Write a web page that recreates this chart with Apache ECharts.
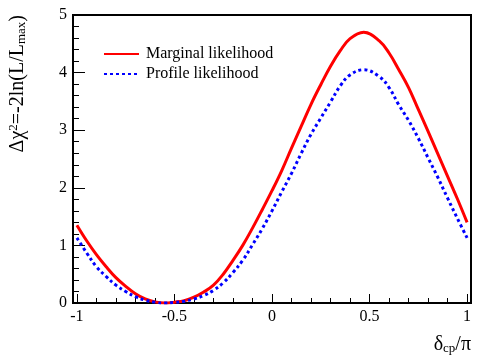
<!DOCTYPE html>
<html>
<head>
<meta charset="utf-8">
<script src="https://cdn.jsdelivr.net/npm/echarts@6/dist/echarts.min.js"></script>
<style>
  html, body { margin: 0; padding: 0; background: #fff; }
  #chart { width: 498px; height: 360px; }
</style>
</head>
<body>
<div id="chart"></div>
<script>
// delta_cp / pi, steps of 0.05 (plus the top of the peak)
const deltaCP = [-1.00, -0.95, -0.90, -0.85, -0.80, -0.75, -0.70, -0.65, -0.60, -0.55,
                 -0.50, -0.45, -0.40, -0.35, -0.30, -0.25, -0.20, -0.15, -0.10, -0.05,
                  0.00, 0.05, 0.10, 0.15, 0.20, 0.25, 0.30, 0.35, 0.40, 0.47,
                  0.55, 0.60, 0.65, 0.70, 0.75, 0.80, 0.85, 0.90, 0.95, 1.00];
// marginal likelihood (red, solid)
const marginal = [1.35, 1.08, 0.84, 0.63, 0.44, 0.29, 0.16, 0.07, 0.02, 0.00,
                  0.015, 0.04, 0.10, 0.19, 0.31, 0.50, 0.74, 1.00, 1.30, 1.62,
                  1.95, 2.30, 2.69, 3.07, 3.45, 3.79, 4.11, 4.38, 4.59, 4.70,
                  4.55, 4.34, 4.05, 3.74, 3.36, 2.98, 2.59, 2.20, 1.81, 1.40];
// profile likelihood (blue, dotted)
const profile = [1.13, 0.87, 0.63, 0.46, 0.31, 0.20, 0.11, 0.05, 0.015, 0.00,
                 0.01, 0.03, 0.07, 0.13, 0.22, 0.35, 0.53, 0.74, 1.01, 1.29,
                 1.60, 1.93, 2.25, 2.60, 2.93, 3.21, 3.49, 3.77, 3.96, 4.05,
                 3.93, 3.74, 3.44, 3.17, 2.86, 2.52, 2.18, 1.82, 1.47, 1.13];

const xMajor = [-1, -0.5, 0, 0.5, 1];
const xMinor = [];
for (let i = -10; i <= 10; i++) if (i % 5 !== 0) xMinor.push(i / 10);

const font = 'Liberation Serif';
const chart = echarts.init(document.getElementById('chart'));

const toPairs = ys => deltaCP.map((x, i) => [x, ys[i]]);

chart.setOption({
  animation: false,
  grid: { left: 73, right: 27, top: 15, bottom: 57, show: true, borderColor: '#000', borderWidth: 2 },
  legend: {
    orient: 'vertical', left: 103, top: 46, padding: 0, itemWidth: 35, itemHeight: 14, itemGap: 4,
    itemStyle: { opacity: 0 },
    textStyle: { fontFamily: font, fontSize: 16, color: '#000', padding: [0, 0, 0, 2] },
    data: ['Marginal likelihood', 'Profile likelihood']
  },
  xAxis: [
    {
      type: 'value', min: -1.02, max: 1.02,
      axisLine: { onZero: false, lineStyle: { color: '#000', width: 2 } },
      axisTick: { show: true, inside: true, length: 9, customValues: xMajor, lineStyle: { color: '#000', width: 1 } },
      axisLabel: { customValues: xMajor, margin: 6, fontFamily: font, fontSize: 16, color: '#000' },
      splitLine: { show: false }
    },
    {
      // minor ticks only
      type: 'value', min: -1.02, max: 1.02, position: 'bottom',
      axisLine: { show: false, onZero: false },
      axisTick: { show: true, inside: true, length: 5, customValues: xMinor, lineStyle: { color: '#000', width: 1 } },
      axisLabel: { show: false, customValues: xMinor },
      splitLine: { show: false }
    }
  ],
  yAxis: {
    type: 'value', min: 0, max: 5, interval: 1,
    axisLine: { show: true, onZero: false, lineStyle: { color: '#000', width: 2 } },
    axisTick: { show: true, inside: true, length: 12, lineStyle: { color: '#000', width: 1 } },
    minorTick: { show: true, splitNumber: 5, length: 6, lineStyle: { color: '#000', width: 1 } },
    axisLabel: { margin: 6, fontFamily: font, fontSize: 16, color: '#000' },
    splitLine: { show: false }
  },
  series: [
    {
      name: 'Marginal likelihood', type: 'line', data: toPairs(marginal),
      smooth: 0.4, symbol: 'none', lineStyle: { color: '#ff0000', width: 3 },
      itemStyle: { color: '#ff0000' }
    },
    {
      name: 'Profile likelihood', type: 'line', data: toPairs(profile),
      smooth: 0.4, symbol: 'none', lineStyle: { color: '#0000ff', width: 3, type: [3, 3] },
      itemStyle: { color: '#0000ff' }
    }
  ],
  graphic: [
    {
      type: 'text', x: 18, y: 15, rotation: Math.PI / 2,
      style: {
        text: 'Δχ{sup|2}=-2ln(L/L{sub|max})',
        align: 'right', verticalAlign: 'middle',
        font: '20px "Liberation Serif"', fill: '#000',
        rich: {
          sup: { fontSize: 13, fontFamily: font, verticalAlign: 'top', padding: [0, 0, 8, 0] },
          sub: { fontSize: 13, fontFamily: font, verticalAlign: 'bottom', padding: [8, 0, 0, 0] }
        }
      }
    },
    {
      type: 'text', x: 471, y: 345,
      style: {
        text: 'δ{sub|cp}/π',
        align: 'right', verticalAlign: 'middle',
        font: '20px "Liberation Serif"', fill: '#000',
        rich: {
          sub: { fontSize: 13, fontFamily: font, verticalAlign: 'bottom', padding: [8, 0, 0, 0] }
        }
      }
    }
  ]
});
</script>
</body>
</html>
